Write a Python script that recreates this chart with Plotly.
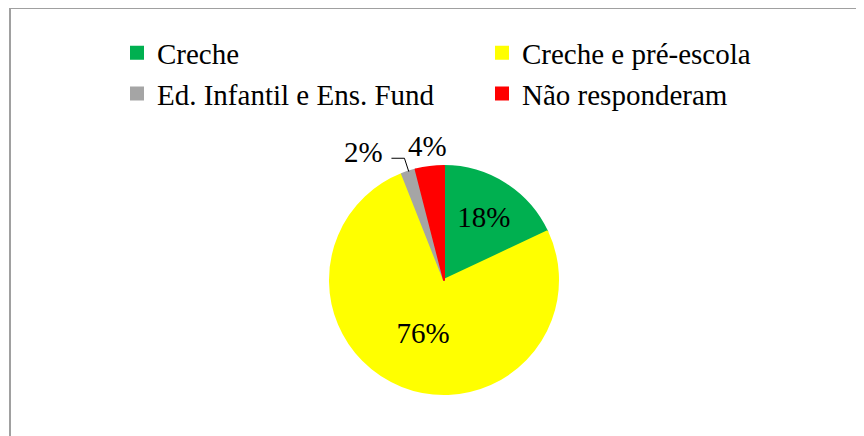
import math
import plotly.graph_objects as go

categories = ["Creche", "Creche e pré-escola", "Ed. Infantil e Ens. Fund", "Não responderam"]
values = [18, 76, 2, 4]
colors = ["#00B050", "#FFFF00", "#A5A5A5", "#FF0000"]
text_positions = ["inside", "inside", "none", "none"]

W, H = 864, 436
cx, cy, r = 436, 272, 114
FONT = "Liberation Serif, Times New Roman, serif"

fig = go.Figure(go.Pie(
    labels=categories,
    values=values,
    sort=False,
    direction="clockwise",
    rotation=0,
    marker=dict(colors=colors, line=dict(color=colors, width=2)),
    textinfo="percent",
    texttemplate="%{percent:.0%}",
    textposition=text_positions,
    insidetextorientation="horizontal",
    textfont=dict(family=FONT, size=29, color="black"),
    domain=dict(x=[(cx - r) / W, (cx + r) / W], y=[(H - cy - r) / H, (H - cy + r) / H]),
    hoverinfo="label+percent",
))

# outside labels for the two small slices, placed from each slice's mid-angle
total = sum(values)
starts = [sum(values[:i]) for i in range(len(values))]


def direction(i):
    mid = (starts[i] + values[i] / 2) / total * 2 * math.pi
    return math.sin(mid), -math.cos(mid)


def to_paper(fx, fy):
    return fx / W, 1 - fy / H


annotations = []
shapes = []

# 2% : leader line with an elbow, text to the left
dx, dy = direction(2)
ex, ey = cx + r * dx, cy + r * dy
bx, by = cx + (r + 14) * dx, cy + (r + 14) * dy
tx, ty = bx - 13, by
p0, p1, p2 = to_paper(ex, ey), to_paper(bx, by), to_paper(tx, ty)
shapes.append(dict(type="path", xref="paper", yref="paper",
                   path=f"M {p0[0]},{p0[1]} L {p1[0]},{p1[1]} L {p2[0]},{p2[1]}",
                   line=dict(color="black", width=1)))
ax_, ay_ = to_paper(tx - 6, ty - 6)
annotations.append(dict(xref="paper", yref="paper", x=ax_, y=ay_, xanchor="right", yanchor="middle",
                        text=f"{round(values[2] / total * 100)}%", showarrow=False,
                        font=dict(family=FONT, size=29, color="black")))

# 4% : straight above its slice
dx, dy = direction(3)
lx, ly = cx + (r + 21) * dx, cy + (r + 21) * dy
ax_, ay_ = to_paper(lx, ly)
annotations.append(dict(xref="paper", yref="paper", x=ax_, y=ay_, xanchor="center", yanchor="middle",
                        text=f"{round(values[3] / total * 100)}%", showarrow=False,
                        font=dict(family=FONT, size=29, color="black")))

# chart frame
shapes += [
    dict(type="line", xref="paper", yref="paper", x0=1 / W, x1=1.0, y0=(H - 0.5) / H, y1=(H - 0.5) / H,
         line=dict(color="#A0A0A0", width=1.2)),
    dict(type="line", xref="paper", yref="paper", x0=2 / W, x1=2 / W, y0=0, y1=1,
         line=dict(color="#A0A0A0", width=2)),
]

fig.update_layout(
    width=W, height=H,
    margin=dict(l=0, r=0, t=0, b=0),
    paper_bgcolor="white",
    plot_bgcolor="white",
    font=dict(family=FONT, size=29, color="black"),
    showlegend=True,
    legend=dict(
        orientation="h",
        x=109 / W, xanchor="left",
        y=(H - 19.5) / H, yanchor="top",
        entrywidth=320, entrywidthmode="pixels",
        font=dict(family=FONT, size=29, color="black"),
        bgcolor="rgba(0,0,0,0)",
        traceorder="normal",
        itemclick=False,
    ),
    annotations=annotations,
    shapes=shapes,
)

fig.write_html("out.html")
